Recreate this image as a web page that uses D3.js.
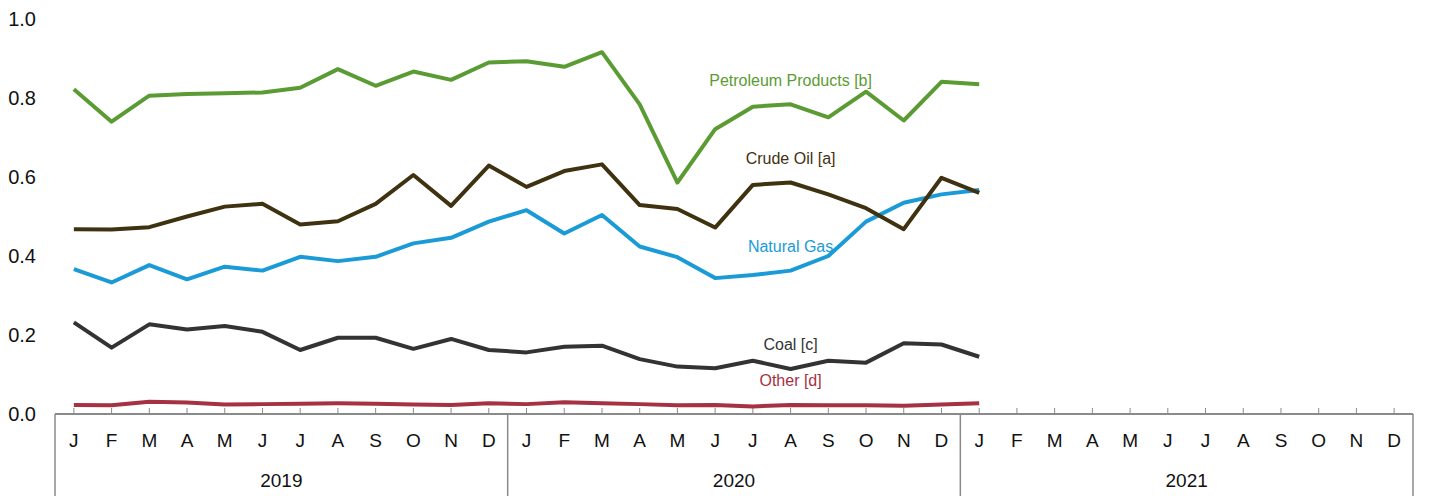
<!DOCTYPE html>
<html><head><meta charset="utf-8">
<script src="https://cdn.jsdelivr.net/npm/d3@7"></script>
<style>body{margin:0;background:#fff;} svg{display:block;font-family:"Liberation Sans",Arial,sans-serif;}</style>
</head><body>
<svg id="c" width="1431" height="496"></svg>
<script>
const years = ["2019","2020","2021"];
const monthLetters = ["J","F","M","A","M","J","J","A","S","O","N","D"];
const yTicks = [0,0.2,0.4,0.6,0.8,1.0];

const petroleum = [0.822,0.740,0.806,0.810,0.812,0.814,0.826,0.873,0.831,0.867,0.846,0.890,
                   0.893,0.879,0.916,0.784,0.586,0.721,0.778,0.784,0.751,0.816,0.743,0.841,0.835];
const crude = [0.468,0.467,0.473,0.500,0.525,0.532,0.480,0.488,0.532,0.605,0.527,0.629,
               0.575,0.615,0.632,0.529,0.519,0.472,0.580,0.586,0.556,0.521,0.468,0.598,0.560];
const gas = [0.367,0.333,0.377,0.341,0.373,0.363,0.398,0.387,0.398,0.432,0.446,0.487,
             0.516,0.457,0.504,0.424,0.397,0.344,0.352,0.363,0.400,0.487,0.535,0.556,0.567];
const coal = [0.232,0.168,0.227,0.214,0.223,0.208,0.162,0.193,0.193,0.165,0.190,0.162,
              0.156,0.170,0.173,0.139,0.120,0.116,0.135,0.114,0.135,0.130,0.179,0.176,0.145];
const other = [0.023,0.022,0.031,0.029,0.024,0.025,0.026,0.027,0.026,0.024,0.023,0.027,
               0.025,0.030,0.027,0.025,0.022,0.023,0.019,0.023,0.022,0.022,0.021,0.024,0.027];

const seriesNames = ["Petroleum Products [b]","Crude Oil [a]","Natural Gas","Coal [c]","Other [d]"];
const seriesData = [petroleum, crude, gas, coal, other];
const colors = ["#5b9b33","#3f3210","#1a9bd7","#333333","#a53142"];
const labelY = [80, 158, 246, 344, 380];
const labelMonth = 19; // Aug 2020
const drawOrder = [4,3,2,1,0];

const svg = d3.select("#c");
const months = d3.range(36);
const x = d3.scaleBand().domain(months).range([55,1413]).padding(0);
const y = d3.scaleLinear().domain([0,1]).range([414,19]);
const cx = i => x(i) + x.bandwidth()/2;

// y labels
svg.append("g").selectAll("text").data(yTicks).join("text")
  .attr("x",36).attr("y",d=>y(d)).attr("dy","0.35em")
  .attr("text-anchor","end").attr("font-size",20).attr("fill","#111")
  .text(d=>d.toFixed(1));

// x axis line
const axisColor = "#8a8a8a";
svg.append("line").attr("x1",55).attr("x2",1413).attr("y1",y(0)).attr("y2",y(0))
  .attr("stroke",axisColor).attr("stroke-width",2);
// ticks
svg.append("g").selectAll("line").data(months).join("line")
  .attr("x1",d=>cx(d)).attr("x2",d=>cx(d)).attr("y1",y(0)).attr("y2",y(0)-6)
  .attr("stroke",axisColor).attr("stroke-width",1);
// year separators
svg.append("g").selectAll("line").data([0,12,24,36]).join("line")
  .attr("x1",d=> d<36 ? x(d) : x(35)+x.bandwidth()).attr("x2",d=> d<36 ? x(d) : x(35)+x.bandwidth())
  .attr("y1",y(0)).attr("y2",496)
  .attr("stroke",axisColor).attr("stroke-width",1.5);
// month letters
svg.append("g").selectAll("text").data(months).join("text")
  .attr("x",d=>cx(d)).attr("y",447).attr("text-anchor","middle")
  .attr("font-size",19).attr("fill","#111")
  .text(d=>monthLetters[d%12]);
// year labels
svg.append("g").selectAll("text").data(years).join("text")
  .attr("x",(d,i)=> (x(i*12) + x(i*12+11)+x.bandwidth())/2).attr("y",487).attr("text-anchor","middle")
  .attr("font-size",19).attr("fill","#111")
  .text(d=>d);

// lines
const line = d3.line().x((d,i)=>cx(i)).y(d=>y(d));
drawOrder.forEach(k=>{
  svg.append("path").datum(seriesData[k]).attr("d",line).attr("fill","none")
    .attr("stroke",colors[k]).attr("stroke-width",4).attr("stroke-linejoin","round");
});
// labels
svg.append("g").selectAll("text").data(seriesNames).join("text")
  .attr("x",cx(labelMonth)).attr("y",(d,i)=>labelY[i]).attr("dy","0.35em")
  .attr("text-anchor","middle").attr("font-size",16)
  .attr("fill",(d,i)=>colors[i]).text(d=>d);
</script>
</body></html>
